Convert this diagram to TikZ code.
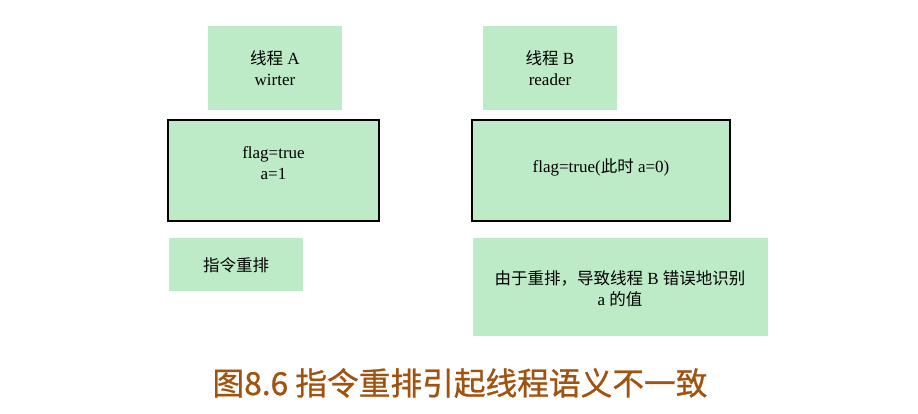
\documentclass[tikz,border=0pt]{standalone}
\usepackage{fontspec}
\setmainfont{Liberation Serif}
\newfontfamily\cjk{Noto Sans CJK SC}
\newfontfamily\cjkcap[FakeBold=0.8]{Noto Sans CJK SC}
\definecolor{boxfill}{HTML}{BDEBC8}
\definecolor{captc}{HTML}{A0520F}
\newcommand{\zh}[1]{{\cjk\fontsize{16.5}{21}\selectfont #1}}
\begin{document}
\begin{tikzpicture}[x=1pt,y=-1pt,
  box/.style={fill=boxfill,draw=none,inner sep=0pt,align=center,font=\fontsize{17}{21}\selectfont}]
\useasboundingbox (0,0) rectangle (918,414);
\fill[boxfill] (208,26) rectangle (342,110);
\node[box] (ha) at (275,68) {\zh{线程} A\\wirter};
\fill[boxfill] (483,26) rectangle (617,110);
\node[box] (hb) at (550,68) {\zh{线程} B\\reader};
\draw[fill=boxfill,line width=1.2pt] (168,120) rectangle (379,221);
\node[box] (fa) at (273.5,163) {flag=true\\a=1};
\draw[fill=boxfill,line width=1.2pt] (472,120) rectangle (730,221);
\node[box] (fb) at (601,167) {flag=true(\zh{此时} a=0)};
\fill[boxfill] (169,238) rectangle (303,291);
\node[box] (ra) at (236,265) {\zh{指令重排}};
\fill[boxfill] (473,238) rectangle (768,336);
\node[box] (rb) at (620,289) {\zh{由于重排，导致线程} B \zh{错误地识别}\\a \zh{的值}};
\node[font=\cjkcap\fontsize{31.7}{36}\selectfont,text=captc,inner sep=0pt] (cap) at (460,383) {图8.6 指令重排引起线程语义不一致};
\end{tikzpicture}
\end{document}
